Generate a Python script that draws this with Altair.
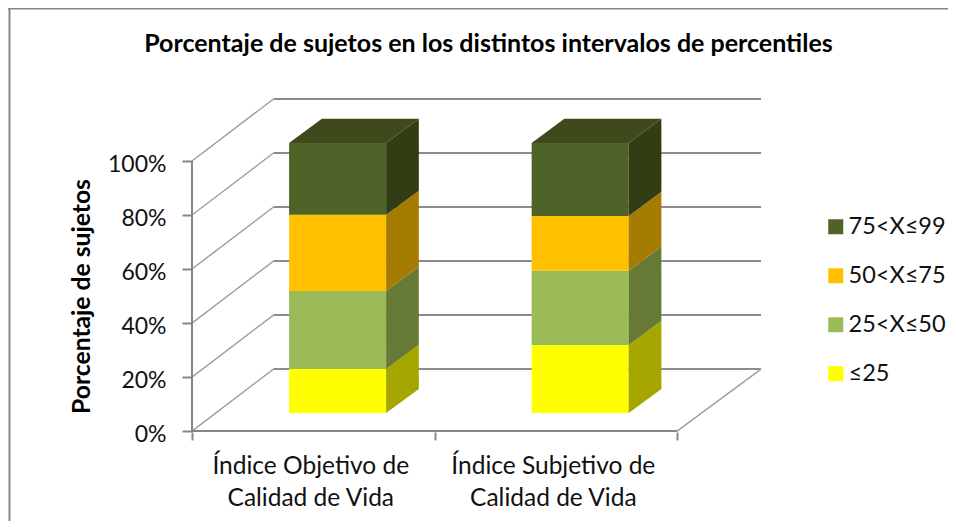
import altair as alt
import pandas as pd

categories = ["Índice Objetivo de\nCalidad de Vida", "Índice Subjetivo de\nCalidad de Vida"]
intervals = ["75<X≤99", "50<X≤75", "25<X≤50", "≤25"]
# values per category, listed bottom-to-top of the stack
low = [16.3, 25.2]       # ≤25
mid_low = [28.9, 27.5]   # 25<X≤50
mid_high = [28.2, 20.3]  # 50<X≤75
high = [26.6, 27.0]      # 75<X≤99
ticks = [0, 20, 40, 60, 80, 100]

front_colors = ["#4f6228", "#ffc000", "#9bbb59", "#ffff00"]
side_colors = ["#333d14", "#a67c00", "#667a35", "#a6a600"]
top_color = "#3e491c"
axis_color = "#868686"
grid_color = "#8c8c8c"
font = "Lato"

# projection: depth 1 shifts a point by these amounts in data units
DX, DY = 0.346, 22.96
DX_LEFT = 0.336  # the left wall recedes slightly less than the right edge of the floor
BAR_W, D0, D1 = 0.4, 0.29, 0.68
XMAX, YMIN, YMAX = 2.0 + DX, -0.35, 100 + DY

x_scale = alt.Scale(domain=[0, XMAX], nice=False, zero=False)
y_scale = alt.Scale(domain=[YMIN, YMAX], nice=False, zero=False)


def proj(x, v, d):
    return x + DX * d, v + DY * d


front, side, top = [], [], []
series = [low, mid_low, mid_high, high]
names = intervals[::-1]
fronts = front_colors[::-1]
sides = side_colors[::-1]
for c in range(len(categories)):
    x0 = c + 0.5 - BAR_W / 2
    x1 = c + 0.5 + BAR_W / 2
    base = 0.0
    for s, vals in enumerate(series):
        tip = base + vals[c]
        fx0, fy0 = proj(x0, base, D0)
        fx1, fy1 = proj(x1, tip, D0)
        front.append(dict(x=fx0, x2=fx1, y=fy0, y2=fy1, interval=names[s]))
        for d in (D0, D1):
            sx, sy0 = proj(x1, base, d)
            _, sy1 = proj(x1, tip, d)
            side.append(dict(x=sx, y=sy0, y2=sy1, key=f"{c}-{s}", color=sides[s]))
        base = tip
    fy = proj(0, base, D0)[1]
    by = proj(0, base, D1)[1]
    a = proj(x0, 0, D0)[0]
    b = proj(x0, 0, D1)[0]
    e = proj(x1, 0, D0)[0]
    f = proj(x1, 0, D1)[0]
    top += [dict(x=a, y=fy, y2=fy, key=str(c)), dict(x=b, y=fy, y2=by, key=str(c)),
            dict(x=e, y=fy, y2=by, key=str(c)), dict(x=f, y=by, y2=by, key=str(c))]

x_axis = alt.Axis(values=[0, 1, 2], labels=False, domain=False, grid=False,
                  tickSize=8, tickWidth=2, tickColor=axis_color)
y_axis = alt.Axis(values=ticks, labelExpr="datum.value + '%'", domain=False, grid=False,
                  tickSize=10, tickWidth=2, tickColor=axis_color,
                  labelFont=font, labelFontSize=23, labelColor="#111111", labelPadding=16,
                  labelOffset=3,
                  titleFont=font, titleFontSize=24.7, titleFontWeight="bold",
                  titleColor="#000000", titleX=-98, titleY=197)
X = alt.X("x:Q", scale=x_scale, axis=x_axis, title=None)
Y = alt.Y("y:Q", scale=y_scale, axis=y_axis, title="Porcentaje de sujetos")

back = pd.DataFrame([dict(x=DX_LEFT, x2=2 + DX, y=t + DY, y2=t + DY) for t in ticks])
wall = pd.DataFrame([dict(x=0, x2=DX_LEFT, y=t, y2=t + DY) for t in ticks] +
                    [dict(x=2, x2=2 + DX, y=0, y2=DY)])
floor = pd.DataFrame([dict(x=0, x2=2, y=0, y2=0), dict(x=0, x2=0, y=0, y2=100)])
enc = dict(x2="x2:Q", y2="y2:Q")

axes = alt.Chart(floor).mark_rule(color=axis_color, strokeWidth=2).encode(x=X, y=Y, **enc)
back_layer = alt.Chart(back).mark_rule(color=grid_color, strokeWidth=2).encode(x=X, y=Y, **enc)
wall_layer = alt.Chart(wall).mark_rule(color="#a0a0a0", strokeWidth=1.5).encode(x=X, y=Y, **enc)

front_layer = alt.Chart(pd.DataFrame(front)).mark_rect().encode(
    x=X, y=Y, **enc,
    color=alt.Color("interval:N",
                    scale=alt.Scale(domain=intervals, range=front_colors),
                    legend=alt.Legend(orient="none", legendX=632, legendY=116, title=None,
                                      symbolType="square", symbolSize=225, symbolStrokeWidth=0,
                                      labelFont=font, labelFontSize=23.5, labelColor="#111111",
                                      labelOffset=1, rowPadding=24)))

side_layer = alt.Chart(pd.DataFrame(side)).mark_area(interpolate="linear").encode(
    x=X, y=Y, y2="y2:Q", detail="key:N", color=alt.Color("color:N", scale=None))
top_layer = alt.Chart(pd.DataFrame(top)).mark_area(interpolate="linear", color=top_color).encode(
    x=X, y=Y, y2="y2:Q", detail="key:N")

labels = pd.DataFrame(dict(x=[0.5, 1.5], label=categories))
label_layer = alt.Chart(labels).mark_text(
    font=font, fontSize=24.5, lineBreak="\n", lineHeight=32.5, color="#111111", baseline="alphabetic", dx=-2.5
).encode(x=X, y=alt.value(374.5), text="label:N")

blank = pd.DataFrame(dict(a=[0]))
frame_top = alt.Chart(blank).mark_rule(color=axis_color, strokeWidth=2).encode(
    x=alt.value(-184), x2=alt.value(756), y=alt.value(-90.5), y2=alt.value(-90.5))
frame_left = alt.Chart(blank).mark_rule(color=axis_color, strokeWidth=2).encode(
    x=alt.value(-182.5), x2=alt.value(-182.5), y=alt.value(-91), y2=alt.value(422))

chart = alt.layer(
    frame_top, frame_left, back_layer, wall_layer, axes,
    front_layer, side_layer, top_layer, label_layer,
).properties(
    width=569, height=333,
    padding={"left": 184, "top": 91, "right": 187, "bottom": 89},
    autosize=alt.AutoSizeParams(type="none"),
    background="white",
    title=alt.TitleParams("Porcentaje de sujetos en los distintos intervalos de percentiles",
                          font=font, fontSize=25, fontWeight="bold", color="#000000",
                          anchor="middle", dx=12, offset=-50),
).configure_view(stroke=None)

chart.save("out.html", embed_options={"renderer": "svg", "actions": False})
